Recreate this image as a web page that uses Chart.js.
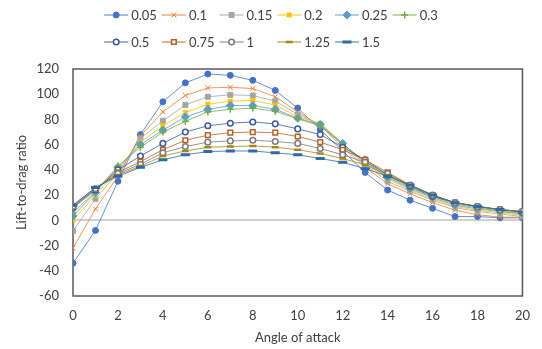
<!DOCTYPE html>
<html>
<head>
<meta charset="utf-8">
<script src="https://cdn.jsdelivr.net/npm/chart.js@4/dist/chart.umd.min.js"></script>
<style>
  html, body { margin: 0; padding: 0; background: #ffffff; }
  #wrap { width: 542px; height: 349px; position: relative; }
</style>
</head>
<body>
<div id="wrap"><canvas id="chart" width="542" height="349"></canvas></div>
<script>
// Angle of attack (deg)
const angles = [0, 1, 2, 3, 4, 5, 6, 7, 8, 9, 10, 11, 12, 13, 14, 15, 16, 17, 18, 19, 20];

// Series names (legend)
const seriesNames = ['0.05', '0.1', '0.15', '0.2', '0.25', '0.3', '0.5', '0.75', '1', '1.25', '1.5'];

// Lift-to-drag ratio for each series
const ld005 = [-34, -8, 31, 68, 94, 109, 116, 115, 111, 103, 89, 72, 55, 38, 24, 16, 9.5, 3, 3, 2, 2];
const ld01  = [-22, 9, 35, 67, 86, 99, 105, 105.5, 104.5, 98, 86, 75, 58, 42, 29, 21, 14, 8, 4.5, 2.5, 2.5];
const ld015 = [-8.5, 17, 38, 65, 79, 91.5, 98, 99.5, 99, 94.5, 84, 76, 60, 44, 31, 23, 16, 10, 7, 5, 3];
const ld02  = [0, 20, 40, 62, 75, 85.5, 92, 94.5, 95, 91.5, 82, 77, 61, 45, 33, 24, 17, 11, 8, 6, 4];
const ld025 = [3.5, 22, 42, 60, 71.5, 82, 88, 91, 91, 88, 81, 76, 61, 46, 34, 25, 18, 12, 9, 7, 5];
const ld03  = [6, 23, 43, 58, 70, 78.5, 86, 88, 89, 86.5, 80.5, 75, 60, 47, 35, 26, 19, 13, 10, 7.5, 5.5];
const ld05  = [10, 24, 40, 51, 61, 70, 75, 77, 78, 76.5, 72.5, 68, 58, 48, 36, 27, 19, 14, 11, 8.5, 6.5];
const ld075 = [11, 25, 38, 46.5, 56, 63.5, 67.5, 69.5, 70, 69.5, 66.5, 62, 56, 48, 38, 28, 20, 14, 11, 8.5, 7];
const ld1   = [11, 25, 37, 44.5, 53.5, 58.5, 62, 63, 63.5, 62.5, 61, 57, 52, 46, 37, 28, 20, 14, 11, 8.5, 7];
const ld125 = [12, 26, 36, 43, 51, 55, 58, 58.5, 59, 58, 56, 53, 49, 44, 36, 28, 20, 14, 11, 8.5, 7];
const ld15  = [12, 26, 35, 42, 48, 52, 54.5, 55, 55, 53.5, 52, 49, 46, 41, 35, 28, 20, 14, 11, 8.5, 6.5];

// Axis tick values
const xTicks = [0, 2, 4, 6, 8, 10, 12, 14, 16, 18, 20];
const yTicks = [-60, -40, -20, 0, 20, 40, 60, 80, 100, 120];

const seriesValues = [ld005, ld01, ld015, ld02, ld025, ld03, ld05, ld075, ld1, ld125, ld15];

// Per-series look: colour, marker style and fill
const styles = [
  { color: '#4472C4', point: 'circle',   radius: 3,   fill: true },
  { color: '#ED7D31', point: 'crossRot', radius: 3.5, fill: true },
  { color: '#A5A5A5', point: 'rect',     radius: 3.5, fill: true },
  { color: '#FFC000', point: 'crossRot', radius: 3,   fill: true, width: 2.5 },
  { color: '#5B9BD5', point: 'rectRot',  radius: 4,   fill: true },
  { color: '#70AD47', point: 'cross',    radius: 3.5, fill: true, width: 1.5 },
  { color: '#3B5A9A', point: 'circle',   radius: 2.8, fill: false },
  { color: '#B5612A', point: 'rect',     radius: 3.3, fill: false },
  { color: '#7A7A7A', point: 'circle',   radius: 2.8, fill: false },
  { color: '#A88514', point: 'line',     radius: 3.5, fill: true, width: 2.5 },
  { color: '#2E6AA3', point: 'line',     radius: 4.5, fill: true, width: 3 }
];

const TEXT = '#404040';
const FONT = 'Lato, "Open Sans", "DejaVu Sans", sans-serif';

const datasets = seriesNames.map((name, i) => {
  const s = styles[i];
  return {
    label: name,
    data: angles.map((a, k) => ({ x: a, y: seriesValues[i][k] })),
    borderColor: s.color + 'CC',
    borderWidth: 1,
    pointStyle: s.point,
    pointRadius: s.radius,
    pointHoverRadius: s.radius,
    pointBorderColor: s.color,
    pointBackgroundColor: s.fill ? s.color : '#ffffff',
    pointBorderWidth: s.width || (s.fill ? 1 : 1.5),
    tension: 0,
    order: seriesNames.length - i
  };
});

// Plot frame around the chart area
const framePlugin = {
  id: 'frame',
  beforeDatasetsDraw(chart) {
    const { ctx, chartArea: a } = chart;
    ctx.save();
    ctx.strokeStyle = '#5a5a5a';
    ctx.lineWidth = 1.5;
    ctx.strokeRect(a.left, a.top, a.right - a.left, a.bottom - a.top);
    ctx.restore();
  }
};

// Legend laid out in columns, each entry a short line with its marker
const legendPlugin = {
  id: 'columnLegend',
  afterDraw(chart) {
    const { ctx } = chart;
    const perRow = 6;
    const lineLen = 24;
    ctx.save();
    ctx.font = '13px ' + FONT;
    const colW = [];
    for (let c = 0; c < perRow; c++) {
      let w = 0;
      for (let r = 0; r * perRow + c < datasets.length; r++) {
        w = Math.max(w, ctx.measureText(datasets[r * perRow + c].label).width);
      }
      colW.push(lineLen + 3 + w + 5);
    }
    const total = colW.reduce((s, v) => s + v, 0) - 5;
    const x0 = (chart.width - total) / 2;
    const rowY = [15, 42];
    datasets.forEach((ds, i) => {
      const r = Math.floor(i / perRow), c = i % perRow;
      let x = x0;
      for (let k = 0; k < c; k++) x += colW[k];
      const y = rowY[r];
      ctx.strokeStyle = ds.borderColor;
      ctx.lineWidth = 1.2;
      ctx.beginPath();
      ctx.moveTo(x, y);
      ctx.lineTo(x + lineLen, y);
      ctx.stroke();
      ctx.fillStyle = ds.pointBackgroundColor;
      ctx.strokeStyle = ds.pointBorderColor;
      ctx.lineWidth = ds.pointBorderWidth;
      Chart.helpers.drawPoint(ctx, {
        pointStyle: ds.pointStyle,
        radius: ds.pointRadius,
        borderWidth: ds.pointBorderWidth,
        rotation: 0
      }, x + lineLen / 2, y);
      ctx.fillStyle = TEXT;
      ctx.textBaseline = 'middle';
      ctx.textAlign = 'left';
      ctx.fillText(ds.label, x + lineLen + 3, y + 0.5);
    });
    ctx.restore();
  }
};

new Chart(document.getElementById('chart'), {
  type: 'line',
  data: { datasets },
  plugins: [framePlugin, legendPlugin],
  options: {
    responsive: false,
    animation: false,
    events: [],
    layout: { padding: { top: 69, right: 13, left: 0, bottom: 0 } },
    plugins: {
      legend: { display: false },
      tooltip: { enabled: false },
      title: { display: false }
    },
    scales: {
      x: {
        type: 'linear',
        min: 0,
        max: 20,
        afterFit(scale) { scale.height = 53; },
        afterBuildTicks(scale) { scale.ticks = xTicks.map(v => ({ value: v })); },
        grid: { display: false, drawTicks: false },
        border: { display: false },
        ticks: { padding: 12, color: TEXT, font: { family: FONT, size: 13 }, maxRotation: 0 },
        title: { display: true, text: 'Angle of attack', color: TEXT, font: { family: FONT, size: 13 }, padding: { top: 0, bottom: 3 } }
      },
      y: {
        min: -60,
        max: 120,
        afterFit(scale) { scale.width = 73; },
        afterBuildTicks(scale) { scale.ticks = yTicks.map(v => ({ value: v })); },
        grid: {
          drawTicks: false,
          color: (c) => (c.tick && c.tick.value === 0 ? '#cfcfcf' : 'rgba(0,0,0,0)'),
          lineWidth: (c) => (c.tick && c.tick.value === 0 ? 2 : 0)
        },
        border: { display: false },
        ticks: { padding: 14, color: TEXT, font: { family: FONT, size: 13 } },
        title: { display: true, text: 'Lift-to-drag ratio', color: TEXT, font: { family: FONT, size: 13 }, padding: { top: 14, bottom: 0 } }
      }
    }
  }
});
</script>
</body>
</html>
